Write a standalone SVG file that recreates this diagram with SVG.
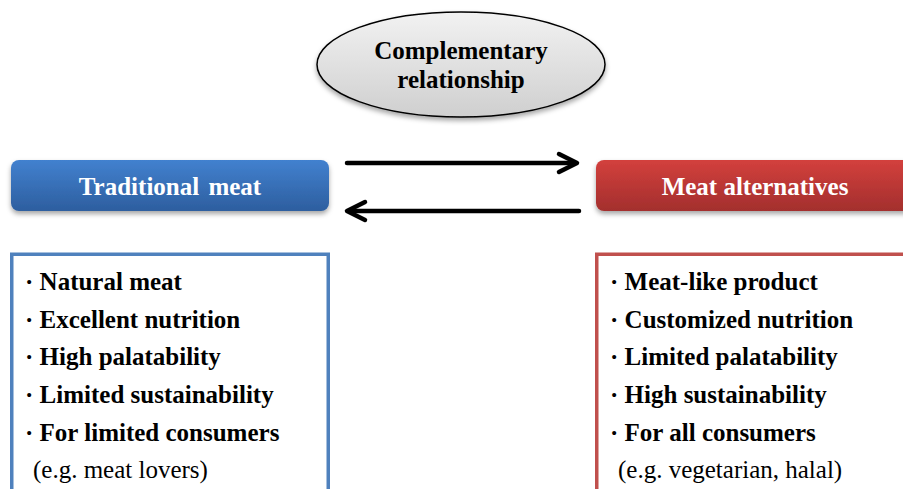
<svg xmlns="http://www.w3.org/2000/svg" width="903" height="489" viewBox="0 0 903 489">
<style>
.t{font-family:"Liberation Serif","Times New Roman",serif;font-size:25px;fill:#000}
.b{font-weight:bold}
.h{font-family:"Liberation Serif","Times New Roman",serif;font-size:25px;font-weight:bold;fill:#fff;text-anchor:middle}
.conn{stroke:#000;stroke-width:4.5;fill:none;stroke-linecap:round;stroke-linejoin:round}
</style>
<defs>
<linearGradient id="gBlue" x1="0" y1="0" x2="0" y2="1"><stop offset="0" stop-color="#4281cf"/><stop offset="1" stop-color="#2d5e9f"/></linearGradient>
<linearGradient id="gRed" x1="0" y1="0" x2="0" y2="1"><stop offset="0" stop-color="#d3403d"/><stop offset="1" stop-color="#a32f2d"/></linearGradient>
<linearGradient id="gGray" x1="0" y1="0" x2="0" y2="1"><stop offset="0" stop-color="#f2f2f2"/><stop offset="1" stop-color="#cfcfcf"/></linearGradient>
<filter id="sh" x="-10%" y="-20%" width="120%" height="160%"><feDropShadow dx="0" dy="3" stdDeviation="2.5" flood-color="#000" flood-opacity="0.35"/></filter>
</defs>
<g id="ellipse-node">
<ellipse cx="461" cy="64.5" rx="144" ry="52.5" fill="url(#gGray)" stroke="#000" stroke-width="1.5" filter="url(#sh)"/>
<text class="t b" x="461" y="59" text-anchor="middle">Complementary</text>
<text class="t b" x="461" y="88" text-anchor="middle">relationship</text>
</g>
<g id="traditional-header">
<rect x="11" y="160" width="318" height="51" rx="8" fill="url(#gBlue)" filter="url(#sh)"/>
<text class="h" x="170" y="195" word-spacing="3">Traditional meat</text>
</g>
<g id="alternatives-header">
<rect x="596" y="160" width="330" height="51" rx="8" fill="url(#gRed)" filter="url(#sh)"/>
<text class="h" x="755" y="195">Meat alternatives</text>
</g>
<g id="connectors">
<line class="conn" x1="347" y1="163" x2="575" y2="163"/>
<polyline class="conn" points="559,154 577,163 559,172"/>
<line class="conn" x1="579" y1="211" x2="349" y2="211"/>
<polyline class="conn" points="365,202 347,211 365,220"/>
</g>
<g id="traditional-list">
<rect x="11.75" y="254.25" width="316.5" height="260" fill="#fff" stroke="#4f81bd" stroke-width="3.5"/>
<text class="t b" x="25" y="290">· Natural meat</text>
<text class="t b" x="25" y="328">· Excellent nutrition</text>
<text class="t b" x="25" y="365">· High palatability</text>
<text class="t b" x="25" y="403">· Limited sustainability</text>
<text class="t b" x="25" y="441">· For limited consumers</text>
<text class="t" x="33" y="478">(e.g. meat lovers)</text>
</g>
<g id="alternatives-list">
<rect x="596.75" y="254.25" width="330" height="260" fill="#fff" stroke="#c0504d" stroke-width="3.5"/>
<text class="t b" x="610" y="290">· Meat-like product</text>
<text class="t b" x="610" y="328">· Customized nutrition</text>
<text class="t b" x="610" y="365">· Limited palatability</text>
<text class="t b" x="610" y="403">· High sustainability</text>
<text class="t b" x="610" y="441">· For all consumers</text>
<text class="t" x="618" y="478">(e.g. vegetarian, halal)</text>
</g>
</svg>
